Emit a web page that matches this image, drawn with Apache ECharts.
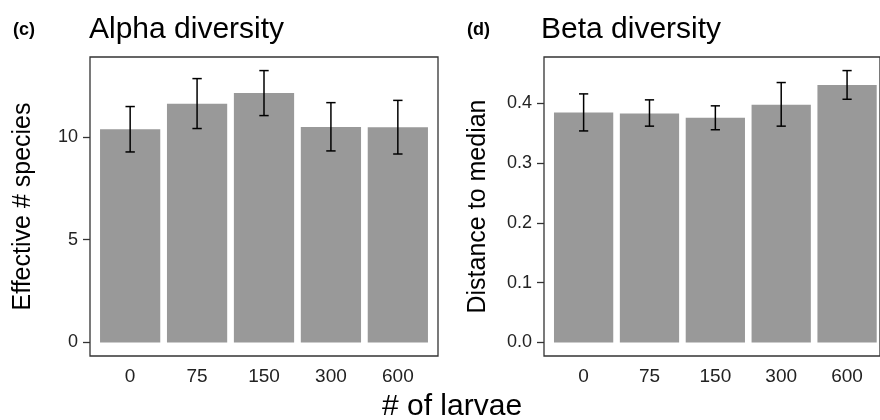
<!DOCTYPE html>
<html>
<head>
<meta charset="utf-8">
<script src="https://cdn.jsdelivr.net/npm/echarts@6/dist/echarts.min.js"></script>
<style>
  html, body { margin: 0; padding: 0; background: #fff; }
  #main { width: 880px; height: 420px; }
</style>
</head>
<body>
<div id="main"></div>
<script>
var larvae = ['0', '75', '150', '300', '600'];

// panel (c) alpha diversity
var alphaMean = [10.37, 11.61, 12.14, 10.49, 10.47];
var alphaLow = [9.27, 10.41, 11.04, 9.32, 9.17];
var alphaHigh = [11.48, 12.84, 13.23, 11.67, 11.78];
var alphaTicks = [0, 5, 10];

// panel (d) beta diversity
var betaMean = [0.385, 0.383, 0.376, 0.398, 0.431];
var betaLow = [0.354, 0.362, 0.356, 0.362, 0.407];
var betaHigh = [0.416, 0.406, 0.396, 0.435, 0.455];
var betaTicks = [0, 0.1, 0.2, 0.3, 0.4];

var font = 'Liberation Sans, Arial, Helvetica, sans-serif';

var dom = document.getElementById('main');
var myChart = echarts.init(dom, null, { renderer: 'canvas' });

function errData(low, high) {
  return low.map(function (v, i) { return [i, v, high[i]]; });
}

function errRender(params, api) {
  var x = api.value(0);
  var lo = api.coord([x, api.value(1)]);
  var hi = api.coord([x, api.value(2)]);
  var half = api.size([1, 0])[0] * 0.07;
  var st = { stroke: '#000', lineWidth: 1.5 };
  return {
    type: 'group',
    children: [
      { type: 'line', shape: { x1: lo[0], y1: lo[1], x2: hi[0], y2: hi[1] }, style: st },
      { type: 'line', shape: { x1: hi[0] - half, y1: hi[1], x2: hi[0] + half, y2: hi[1] }, style: st },
      { type: 'line', shape: { x1: lo[0] - half, y1: lo[1], x2: lo[0] + half, y2: lo[1] }, style: st }
    ]
  };
}

// ggplot-like expansion of the y range (5% each side)
function yRange(high) {
  var top = Math.max.apply(null, high);
  return { min: -0.05 * top, max: top * 1.05 };
}
var aR = yRange(alphaHigh);
var bR = yRange(betaHigh);

var boxTop = 57, boxH = 299, boxW = 348;
var unit = boxW / 5.2;

function frameGrid(left) {
  return { left: left, top: boxTop, width: boxW, height: boxH, show: true,
    borderColor: '#333', borderWidth: 1.3, backgroundColor: 'transparent' };
}
function dataGrid(left) {
  return { left: left + 0.1 * unit, top: boxTop, width: 5 * unit, height: boxH };
}

function visibleY(gi, r, ticks, name, gap, dec) {
  return {
    type: 'value', gridIndex: gi, min: r.min, max: r.max,
    name: name, nameLocation: 'middle', nameGap: gap, nameRotate: 90,
    nameTextStyle: { fontFamily: font, fontSize: 25, color: '#000' },
    axisLine: { show: false },
    axisTick: { show: true, length: 7, customValues: ticks, lineStyle: { color: '#333', width: 1.3 } },
    axisLabel: { margin: 12, customValues: ticks, fontFamily: font, fontSize: 18, color: '#222',
      formatter: function (v) { return v.toFixed(dec); } },
    splitLine: { show: false }
  };
}
function hiddenY(gi, r) {
  return { type: 'value', gridIndex: gi, min: r.min, max: r.max, show: false, splitLine: { show: false } };
}
function hiddenX(gi) {
  return { type: 'category', gridIndex: gi, data: larvae, show: false };
}
function shownX(gi) {
  return {
    type: 'category', gridIndex: gi, data: larvae,
    axisLine: { show: false }, axisTick: { show: false },
    axisLabel: { margin: 11, fontFamily: font, fontSize: 19, color: '#222' }
  };
}

function label(text, left, top, size, weight) {
  return { text: text, left: left, top: top, padding: 0,
    textStyle: { fontFamily: font, fontSize: size, fontWeight: weight, color: '#000' } };
}

var option = {
  animation: false,
  backgroundColor: '#fff',
  title: [
    label('(c)', 13, 21, 18, 'bold'),
    label('Alpha diversity', 89, 15, 30, 'normal'),
    label('(d)', 467, 21, 18, 'bold'),
    label('Beta diversity', 541, 15, 30, 'normal'),
    label('# of larvae', 382, 392, 30, 'normal')
  ],
  grid: [
    frameGrid(90), dataGrid(90),
    frameGrid(544), dataGrid(544)
  ],
  xAxis: [hiddenX(0), shownX(1), hiddenX(2), shownX(3)],
  yAxis: [
    visibleY(0, aR, alphaTicks, 'Effective # species', 54, 0), hiddenY(1, aR),
    visibleY(2, bR, betaTicks, 'Distance to median', 53, 1), hiddenY(3, bR)
  ],
  series: [
    { type: 'bar', xAxisIndex: 1, yAxisIndex: 1, data: alphaMean, barWidth: '90%',
      itemStyle: { color: '#999999' } },
    { type: 'custom', xAxisIndex: 1, yAxisIndex: 1, data: errData(alphaLow, alphaHigh),
      encode: { x: 0, y: [1, 2] }, renderItem: errRender, z: 5 },
    { type: 'bar', xAxisIndex: 3, yAxisIndex: 3, data: betaMean, barWidth: '90%',
      itemStyle: { color: '#999999' } },
    { type: 'custom', xAxisIndex: 3, yAxisIndex: 3, data: errData(betaLow, betaHigh),
      encode: { x: 0, y: [1, 2] }, renderItem: errRender, z: 5 }
  ]
};

if (option && typeof option === 'object') {
  myChart.setOption(option);
}

window.addEventListener('resize', myChart.resize);
</script>
</body>
</html>
